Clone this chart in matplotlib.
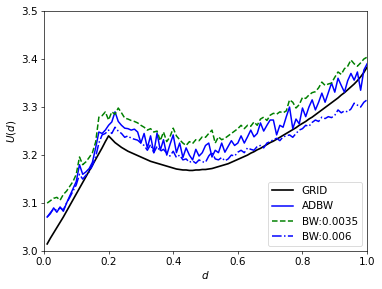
import numpy as np
import matplotlib
matplotlib.use("Agg")
import matplotlib.pyplot as plt

d = [round(0.01 * i, 2) for i in range(1, 101)]

grid = [3.015, 3.027, 3.038, 3.049, 3.060, 3.071, 3.083, 3.095, 3.107, 3.119,
        3.131, 3.143, 3.155, 3.167, 3.179, 3.191, 3.203, 3.215, 3.228, 3.240,
        3.233, 3.226, 3.221, 3.216, 3.212, 3.208, 3.205, 3.202, 3.199, 3.196,
        3.193, 3.190, 3.187, 3.185, 3.183, 3.181, 3.179, 3.177, 3.175, 3.173,
        3.171, 3.170, 3.169, 3.169, 3.168, 3.168, 3.169, 3.169, 3.170, 3.170,
        3.171, 3.172, 3.174, 3.176, 3.178, 3.180, 3.182, 3.185, 3.188, 3.191,
        3.194, 3.197, 3.200, 3.204, 3.207, 3.211, 3.214, 3.218, 3.222, 3.226,
        3.229, 3.233, 3.237, 3.241, 3.245, 3.249, 3.253, 3.257, 3.262, 3.266,
        3.270, 3.275, 3.279, 3.284, 3.289, 3.294, 3.299, 3.304, 3.309, 3.314,
        3.319, 3.325, 3.330, 3.336, 3.342, 3.348, 3.355, 3.363, 3.372, 3.383]

adbw = [3.071, 3.078, 3.090, 3.081, 3.092, 3.083, 3.100, 3.115, 3.130, 3.145,
        3.180, 3.160, 3.165, 3.172, 3.185, 3.215, 3.248, 3.245, 3.252, 3.262,
        3.269, 3.290, 3.270, 3.262, 3.256, 3.255, 3.252, 3.254, 3.248, 3.225,
        3.245, 3.215, 3.240, 3.205, 3.246, 3.210, 3.232, 3.200, 3.222, 3.242,
        3.205, 3.225, 3.195, 3.215, 3.200, 3.190, 3.212, 3.198, 3.205, 3.220,
        3.225, 3.196, 3.210, 3.205, 3.225, 3.206, 3.218, 3.230, 3.220, 3.225,
        3.240, 3.225, 3.238, 3.252, 3.238, 3.245, 3.267, 3.250, 3.262, 3.273,
        3.273, 3.242, 3.262, 3.258, 3.280, 3.300, 3.255, 3.275, 3.265, 3.298,
        3.280, 3.300, 3.315, 3.294, 3.310, 3.329, 3.310, 3.330, 3.350, 3.331,
        3.360, 3.345, 3.331, 3.355, 3.370, 3.356, 3.373, 3.335, 3.377, 3.390]

bw_0035 = [3.100, 3.105, 3.110, 3.112, 3.106, 3.118, 3.125, 3.135, 3.145, 3.160,
           3.196, 3.180, 3.186, 3.195, 3.205, 3.227, 3.279, 3.282, 3.290, 3.273,
           3.290, 3.285, 3.298, 3.288, 3.277, 3.275, 3.272, 3.270, 3.267, 3.262,
           3.258, 3.252, 3.255, 3.248, 3.250, 3.230, 3.248, 3.228, 3.238, 3.256,
           3.240, 3.232, 3.225, 3.220, 3.228, 3.224, 3.232, 3.230, 3.238, 3.237,
           3.245, 3.252, 3.225, 3.238, 3.232, 3.235, 3.240, 3.245, 3.250, 3.255,
           3.262, 3.255, 3.262, 3.260, 3.269, 3.262, 3.275, 3.279, 3.272, 3.283,
           3.287, 3.285, 3.290, 3.288, 3.292, 3.315, 3.310, 3.298, 3.305, 3.320,
           3.318, 3.325, 3.330, 3.332, 3.340, 3.352, 3.345, 3.348, 3.350, 3.362,
           3.373, 3.368, 3.380, 3.385, 3.398, 3.390, 3.385, 3.392, 3.400, 3.404]

bw_006 = [3.071, 3.080, 3.088, 3.085, 3.090, 3.086, 3.100, 3.112, 3.125, 3.138,
          3.160, 3.150, 3.158, 3.165, 3.178, 3.196, 3.225, 3.242, 3.245, 3.252,
          3.245, 3.258, 3.250, 3.245, 3.237, 3.240, 3.235, 3.233, 3.231, 3.225,
          3.220, 3.210, 3.222, 3.205, 3.218, 3.208, 3.212, 3.204, 3.198, 3.208,
          3.195, 3.200, 3.190, 3.192, 3.185, 3.188, 3.183, 3.190, 3.186, 3.185,
          3.198, 3.206, 3.192, 3.190, 3.195, 3.188, 3.192, 3.200, 3.198, 3.206,
          3.210, 3.205, 3.215, 3.212, 3.210, 3.218, 3.220, 3.215, 3.225, 3.228,
          3.232, 3.235, 3.230, 3.238, 3.240, 3.242, 3.237, 3.245, 3.252, 3.255,
          3.262, 3.260, 3.268, 3.273, 3.270, 3.279, 3.276, 3.280, 3.278, 3.283,
          3.294, 3.288, 3.292, 3.290, 3.296, 3.308, 3.304, 3.300, 3.310, 3.315]

labels = ["GRID", "ADBW", "BW:0.0035", "BW:0.006"]

fs = 12.5
fig = plt.figure(figsize=(382 / 60, 289 / 60), dpi=60)
ax = fig.add_axes([0.115, 0.131, 0.846, 0.831])
ax.plot(d, grid, color="black", lw=2.0, label=labels[0])
ax.plot(d, adbw, color="blue", lw=1.8, label=labels[1])
ax.plot(d, bw_0035, color="green", lw=1.8, ls="--", label=labels[2])
ax.plot(d, bw_006, color="blue", lw=1.8, ls="-.", label=labels[3])
ax.set_xlim(0, 1)
ax.set_ylim(3.0, 3.5)
ax.set_xticks([0, 0.2, 0.4, 0.6, 0.8, 1.0])
ax.set_yticks([3.0, 3.1, 3.2, 3.3, 3.4, 3.5])
ax.tick_params(labelsize=fs)
ax.set_xlabel("$d$", fontsize=fs, labelpad=2)
ax.set_ylabel("$U(d)$", fontsize=fs)
ax.legend(loc="lower right", fontsize=fs)
fig.savefig("out.png", dpi=60)
